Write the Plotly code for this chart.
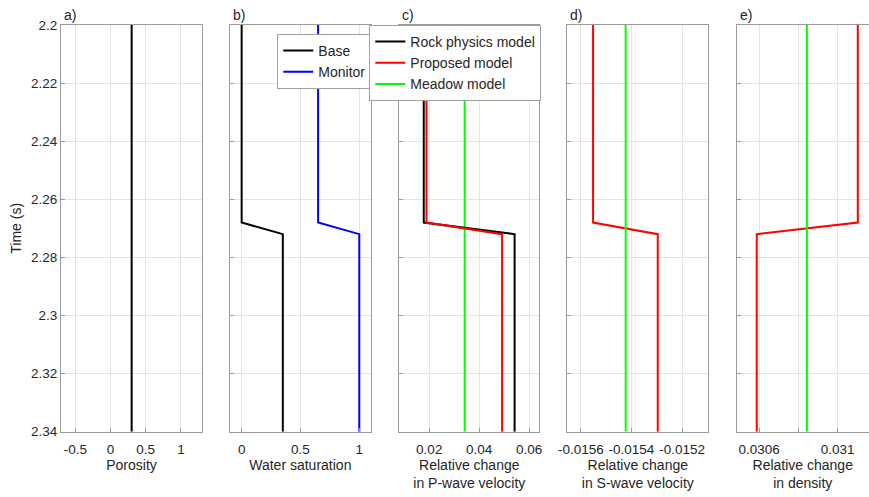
import plotly.graph_objects as go

# ---------------- data ----------------
time = [2.2, 2.268, 2.272, 2.34]

porosity = [0.3, 0.3, 0.3, 0.3]

sw_base = [0.0, 0.0, 0.35, 0.35]
sw_monitor = [0.65, 0.65, 1.0, 1.0]

dvp_rock = [0.0178, 0.0178, 0.0542, 0.0542]
dvp_proposed = [0.0189, 0.0189, 0.0492, 0.0492]
dvp_meadow = [0.0342, 0.0342, 0.0342, 0.0342]

dvs_proposed = [-0.015552, -0.015552, -0.015296, -0.015296]
dvs_meadow = [-0.015423, -0.015423, -0.015423, -0.015423]

drho_proposed = [0.031102, 0.031102, 0.030588, 0.030588]
drho_meadow = [0.030843, 0.030843, 0.030843, 0.030843]

y_tickvals = [2.2, 2.22, 2.24, 2.26, 2.28, 2.3, 2.32, 2.34]
y_ticktext = ["2.2", "2.22", "2.24", "2.26", "2.28", "2.3", "2.32", "2.34"]

xa_tickvals = [-0.5, 0, 0.5, 1]
xa_ticktext = ["-0.5", "0", "0.5", "1"]
xb_tickvals = [0, 0.5, 1]
xb_ticktext = ["0", "0.5", "1"]
xc_tickvals = [0.02, 0.04, 0.06]
xc_ticktext = ["0.02", "0.04", "0.06"]
xd_tickvals = [-0.0156, -0.0154, -0.0152]
xd_ticktext = ["-0.0156", "-0.0154", "-0.0152"]
xe_tickvals = [0.0306, 0.0308, 0.031]
xe_ticktext = ["0.0306", "", "0.031"]

panel_labels = ["a)", "b)", "c)", "d)", "e)"]
x_titles = ["Porosity", "Water saturation",
            "Relative change<br>in P-wave velocity",
            "Relative change<br>in S-wave velocity",
            "Relative change<br>in density"]
y_title = "Time (s)"

# ---------------- layout geometry ----------------
W, H = 869, 497
FONT = "Liberation Sans, Arial, Helvetica, sans-serif"
TXT = "#262626"
AX = "#9a9a9a"
GRID = "#e4e4e4"

px_domains = [(61, 202), (230, 370.7), (399.3, 539.3), (567.3, 708.3), (736.5, 869)]
x_ranges = [[-0.704, 1.30], [-0.099, 1.097], [0.008, 0.0641],
            [-0.015654, -0.015096], [0.030485, 0.031159]]
y_dom = [1 - 431.7 / H, 1 - 25 / H]

fig = go.Figure()

BLACK, RED, GREEN, BLUE = "#000000", "#ff0000", "#00ff00", "#0000ff"
LW = 2

def add(x, name, color, idx, legend=None, show=False):
    fig.add_trace(go.Scatter(
        x=x, y=time, mode="lines", name=name,
        line=dict(color=color, width=LW),
        xaxis="x" if idx == 1 else f"x{idx}",
        yaxis="y" if idx == 1 else f"y{idx}",
        showlegend=show, legend=legend))

add(porosity, "Porosity", BLACK, 1)
add(sw_base, "Base", BLACK, 2, "legend", True)
add(sw_monitor, "Monitor", BLUE, 2, "legend", True)
add(dvp_meadow, "Meadow model", GREEN, 3)
add(dvp_rock, "Rock physics model", BLACK, 3, "legend2", True)
add(dvp_proposed, "Proposed model", RED, 3, "legend2", True)
# legend entry for Meadow after the others
fig.add_trace(go.Scatter(x=[None], y=[None], mode="lines", name="Meadow model",
                         line=dict(color=GREEN, width=LW), xaxis="x3", yaxis="y3",
                         showlegend=True, legend="legend2"))
add(dvs_proposed, "Proposed model", RED, 4)
add(dvs_meadow, "Meadow model", GREEN, 4)
add(drho_proposed, "Proposed model", RED, 5)
add(drho_meadow, "Meadow model", GREEN, 5)

tick_sets = [(xa_tickvals, xa_ticktext), (xb_tickvals, xb_ticktext),
             (xc_tickvals, xc_ticktext), (xd_tickvals, xd_ticktext),
             (xe_tickvals, xe_ticktext)]

layout = dict(
    width=W, height=H,
    margin=dict(l=0, r=0, t=0, b=0, autoexpand=False),
    paper_bgcolor="white", plot_bgcolor="white",
    font=dict(family=FONT, size=13.5, color=TXT),
    annotations=[],
)

for i in range(5):
    n = i + 1
    xk = "xaxis" if n == 1 else f"xaxis{n}"
    yk = "yaxis" if n == 1 else f"yaxis{n}"
    a, b = px_domains[i]
    tv, tt = tick_sets[i]
    layout[xk] = dict(
        domain=[a / W, b / W], range=x_ranges[i], automargin=False,
        anchor="y" if n == 1 else f"y{n}",
        tickmode="array", tickvals=tv, ticktext=tt,
        showline=True, linecolor=AX, linewidth=1, mirror=True,
        ticks="inside", ticklen=4, tickcolor=AX, ticklabelstandoff=5,
        showgrid=True, gridcolor=GRID, gridwidth=1, zeroline=False,
        tickfont=dict(size=13.5, color=TXT),
        title=dict(text=x_titles[i], font=dict(size=14, color=TXT), standoff=4),
    )
    layout[yk] = dict(
        domain=y_dom, range=[2.34, 2.2], automargin=False,
        anchor="x" if n == 1 else f"x{n}",
        tickmode="array", tickvals=y_tickvals,
        ticktext=y_ticktext if n == 1 else [""] * len(y_tickvals),
        showticklabels=(n == 1),
        showline=True, linecolor=AX, linewidth=1, mirror=(n != 5),
        ticks="inside", ticklen=4, tickcolor=AX,
        showgrid=True, gridcolor=GRID, gridwidth=1, zeroline=False,
        tickfont=dict(size=13.5, color=TXT),
    )
    layout["annotations"].append(dict(
        text=panel_labels[i], xref="paper", yref="paper",
        x=(a + 1) / W, y=1 - 5 / H, xanchor="left", yanchor="top",
        showarrow=False, font=dict(size=14, color=TXT)))

layout["yaxis"]["title"] = dict(text=y_title, font=dict(size=14, color=TXT), standoff=6)

layout["legend"] = dict(
    x=277.3 / W, y=1 - 34 / H, xanchor="left", yanchor="top",
    bgcolor="white", bordercolor="#a0a0a0", borderwidth=1,
    font=dict(size=14, color=TXT), tracegroupgap=0, itemwidth=30,
)
layout["legend2"] = dict(
    x=369.3 / W, y=1 - 25 / H, xanchor="left", yanchor="top",
    bgcolor="white", bordercolor="#a0a0a0", borderwidth=1,
    font=dict(size=14, color=TXT), tracegroupgap=0, itemwidth=30,
)

fig.update_layout(**layout)
fig.write_html("out.html")
